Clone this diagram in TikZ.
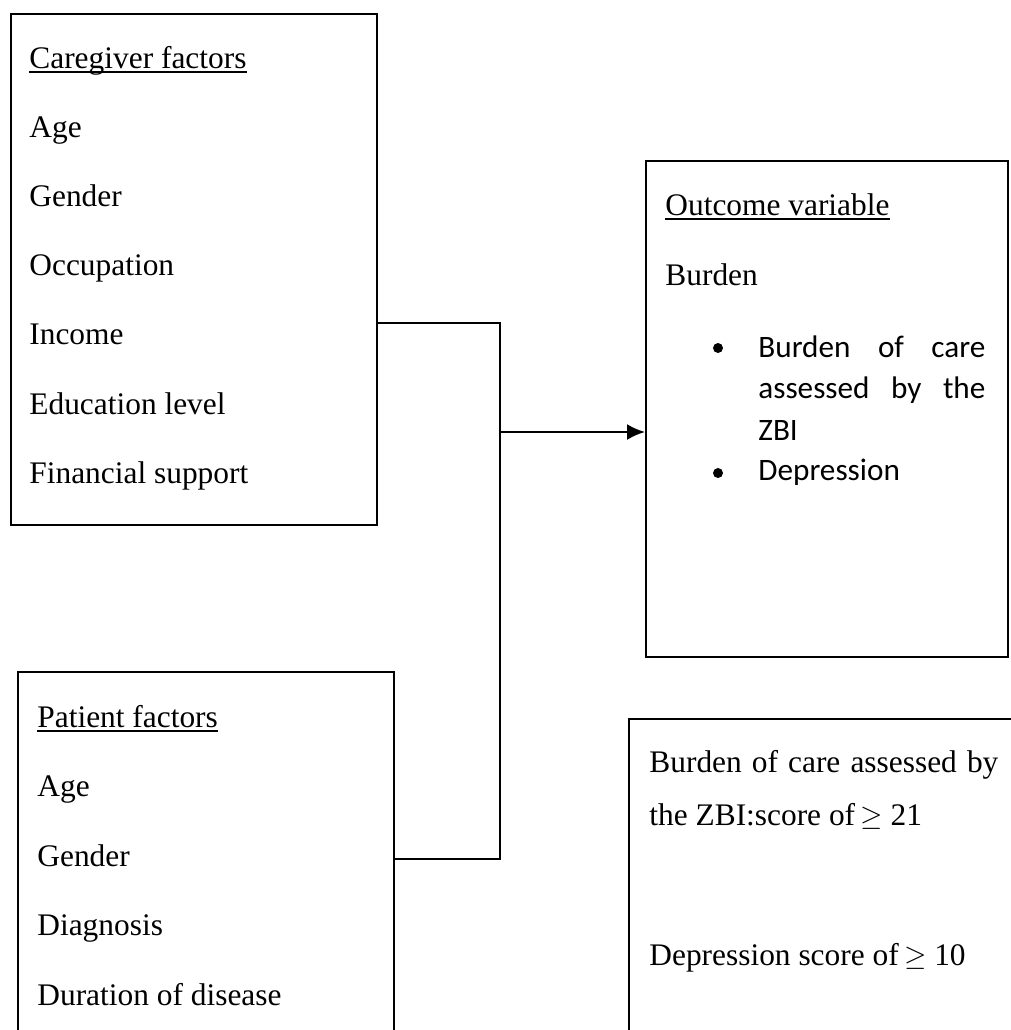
\documentclass[tikz,border=0pt]{standalone}
\usepackage{fontspec}
\setmainfont{Liberation Serif}
\newfontfamily\calibri{Carlito}
\usetikzlibrary{calc,arrows.meta}

\tikzset{
	box/.style={draw, line width=1.2pt, rectangle, inner sep=0pt, anchor=north west},
	entry/.style={inner sep=0pt, anchor=base west, font=\fontsize{15.7}{18}\selectfont},
	bulletline/.style={inner sep=0pt, anchor=base west, font=\calibri\fontsize{15.6}{18}\selectfont},
	link/.style={line width=1.1pt},
	uline/.style={line width=0.6pt},
}

\begin{document}
\begin{tikzpicture}[x=0.5pt, y=-0.5pt]

% frame %{{{2

	\useasboundingbox (0,0) rectangle (1011,1030);
	\fill[white] (0,0) rectangle (1011,1030);
	\clip (0,0) rectangle (1011,1030);

% boxes %{{{2

	\node[box, minimum width=183pt, minimum height=255.5pt] (care) at (10,13) {};
	\node[box, minimum width=188pt, minimum height=200pt] (pat) at (17,671) {};
	\node[box, minimum width=181pt, minimum height=248pt] (out) at (645,160) {};
	\node[box, minimum width=200pt, minimum height=200pt] (crit) at (628,718) {};

% caregiver factors %{{{2

	\node[entry] (carehead) at (29,68) {Caregiver factors};
	\draw[uline] ([yshift=-2pt]carehead.base west) -- ([yshift=-2pt]carehead.base east);

	\foreach \t [count=\i] in {Age,Gender,Occupation,Income,Education level,Financial support} {
		\node[entry] (care\i) at (29,{68+69.2*\i}) {\t};
	}

% patient factors %{{{2

	\node[entry] (pathead) at (37,727) {Patient factors};
	\draw[uline] ([yshift=-2pt]pathead.base west) -- ([yshift=-2pt]pathead.base east);

	\foreach \t [count=\i] in {Age,Gender,Diagnosis,Duration of disease} {
		\node[entry] (pat\i) at (37,{727+69.5*\i}) {\t};
	}

% outcome variable %{{{2

	\node[entry] (outhead) at (665,215) {Outcome variable};
	\draw[uline] ([yshift=-2pt]outhead.base west) -- ([yshift=-2pt]outhead.base east);
	\node[entry] (burden) at (665,285) {Burden};

	\node[bulletline] (zbi1) at (758,357) {\makebox[113.5pt][s]{Burden of care}};
	\node[bulletline] (zbi2) at (758,398) {\makebox[113.5pt][s]{assessed by the}};
	\node[bulletline] (zbi3) at (758,440) {ZBI};
	\node[bulletline] (dep) at (758,480) {Depression};

	\fill ($(zbi1.base west)+(-40,-9)$) circle (5);
	\fill ($(dep.base west)+(-40,-7)$) circle (5);

% cut-off scores %{{{2

	\node[entry] (crit1) at (649,772) {\makebox[174.5pt][s]{Burden of care assessed by}};
	\node[entry] (crit2) at (649,825) {the ZBI:score of\,$\geq$ 21};
	\node[entry] (crit3) at (649,965) {Depression score of\,$\geq$ 10};

% connectors %{{{2

	\coordinate (jtop) at (500,323);
	\coordinate (jmid) at (500,432);
	\coordinate (jbot) at (500,859);

	\draw[link] (jtop -| care.east) -- (jtop) -- (jbot) -- (jbot -| pat.east);
	\draw[link, -{Latex[length=9pt, width=8pt]}] (jmid) -- (jmid -| out.west);

% closing %{{{2

\end{tikzpicture}
\end{document}
